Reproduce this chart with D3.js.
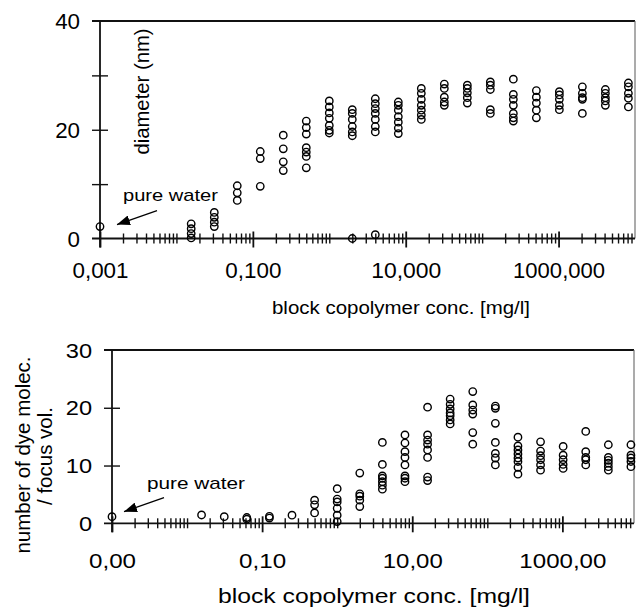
<!DOCTYPE html>
<html><head><meta charset="utf-8">
<script src="https://cdn.jsdelivr.net/npm/d3@7"></script>
<style>
html,body{margin:0;padding:0;background:#fff;}
text{font-family:"Liberation Sans",Arial,Helvetica,sans-serif;fill:#000;}
</style>
</head><body>
<svg id="c" width="637" height="608"></svg>
<script>
// ---------- data ----------
const conc = [0.0156, 0.0313, 0.0625, 0.125, 0.25, 0.5, 1, 2, 4, 8, 16, 32, 64, 128, 256, 512, 1024, 2048, 4096, 8192];
const pureWaterConc = 0.001;
const diameterPure = 2.2;
const diameterNm = [
  [2.7, 1.8, 0.9, 0.1],
  [4.8, 3.9, 3.0, 2.2],
  [9.7, 8.4, 7.0],
  [16.0, 14.7, 9.6],
  [19.0, 16.5, 14.1, 12.5],
  [21.6, 20.4, 19.2, 16.7, 15.9, 15.1, 13.0],
  [25.3, 24.2, 23.1, 22.1, 20.8, 19.9, 19.4],
  [23.7, 23.0, 21.9, 20.6, 19.6, 18.9],
  [25.7, 24.8, 23.9, 23.0, 21.9, 20.6, 19.6],
  [25.1, 24.5, 23.6, 22.4, 21.4, 20.3, 19.3],
  [27.6, 26.7, 25.6, 24.5, 23.6, 22.7, 21.9],
  [28.4, 27.6, 26.0, 25.1, 24.5],
  [28.2, 27.6, 26.8, 25.9, 24.9],
  [28.8, 28.2, 27.4, 23.7, 23.0],
  [29.3, 26.5, 25.6, 24.5, 23.0, 22.2, 21.6],
  [27.2, 26.0, 24.9, 23.6, 22.2],
  [27.0, 26.4, 25.6, 24.5, 23.7],
  [27.9, 26.7, 25.9, 25.6, 23.0],
  [27.4, 26.7, 25.9, 25.3, 24.5],
  [28.6, 27.9, 26.7, 25.8, 24.2]
];
const diameterLowConc = [2, 4];
const diameterLow = [0, 0.7];
const dyePure = 1.15;
const dyeMolec = [
  [1.44],
  [1.15],
  [1.0, 0.7],
  [1.2, 0.9],
  [1.4],
  [4.0, 3.2, 1.8],
  [6.0, 4.2, 3.7, 2.6, 1.4, 0.3],
  [8.7, 5.1, 4.7, 4.0, 2.9],
  [14.0, 10.2, 8.2, 7.8, 7.2, 6.6, 5.9],
  [15.3, 13.9, 12.4, 11.4, 10.1, 8.2, 7.8, 7.2],
  [20.1, 15.3, 14.4, 13.7, 12.7, 11.4, 8.0, 7.4],
  [21.5, 20.6, 19.8, 19.1, 18.6, 17.9, 17.2],
  [22.8, 20.5, 19.6, 18.9, 15.7, 13.7],
  [20.3, 19.9, 17.3, 14.0, 12.1, 11.3, 10.1],
  [14.9, 13.4, 12.7, 12.0, 11.3, 10.7, 9.7, 8.5],
  [14.1, 12.5, 11.7, 11.0, 10.1, 9.2],
  [13.3, 11.8, 11.0, 10.2, 9.5],
  [15.9, 12.4, 11.4, 11.0, 10.1],
  [13.6, 11.4, 10.9, 10.4, 9.8, 9.2],
  [13.6, 11.8, 11.3, 10.7, 9.8]
];
const xMajorTicks = [0.001, 0.1, 10, 1000];
const xTickLabelsTop = ["0,001", "0,100", "10,000", "1000,000"];
const xTickLabelsBottom = ["0,00", "0,10", "10,00", "1000,00"];
const yTicksTop = [0, 10, 20, 30, 40];
const yLabelsTop = [0, 20, 40];
const yTicksBottom = [0, 10, 20, 30];
const yLabelsBottom = [0, 10, 20, 30];
const xTitle = "block copolymer conc. [mg/l]";
const yTitleTop = "diameter (nm)";
const yTitleBottom = ["number of dye molec.", "/ focus vol."];
const pureWaterLabel = "pure water";

// ---------- helpers ----------
const svg = d3.select("#c");
svg.append("defs").append("marker")
  .attr("id", "ah").attr("viewBox", "0 0 13 10").attr("refX", 13).attr("refY", 5)
  .attr("markerWidth", 13).attr("markerHeight", 10).attr("markerUnits", "userSpaceOnUse")
  .attr("orient", "auto")
  .append("path").attr("d", "M0,0 L13,5 L0,10 Z").attr("fill", "#000");

function stretchBy(sel, k) {
  sel.each(function () {
    const len = this.getComputedTextLength();
    d3.select(this).attr("textLength", len * k).attr("lengthAdjust", "spacingAndGlyphs");
  });
}
function fitTo(sel, w) { sel.attr("textLength", w).attr("lengthAdjust", "spacingAndGlyphs"); }

function minorValues(domain) {
  const out = [];
  for (let e = -3; e <= 4; e++) {
    for (let m = 1; m <= 9; m++) {
      const v = +(m * Math.pow(10, e)).toPrecision(6);
      if (v > domain[0] && v < domain[1] && !xMajorTicks.includes(v)) out.push(v);
    }
  }
  return out;
}

function panel(o) {
  const g = svg.append("g");
  const x = d3.scaleLog().domain(o.xDomain).range(o.xRange);
  const y = d3.scaleLinear().domain(o.yDomain).range(o.yRange);
  const x0 = o.xRange[0], x1 = o.xRange[1], y0 = y(0), yT = y(o.yDomain[1]);

  g.append("line").attr("x1", x0 - 8).attr("x2", x1).attr("y1", yT).attr("y2", yT)
    .attr("stroke", "#111").attr("stroke-width", 1.8);
  g.append("line").attr("x1", x1).attr("x2", x1).attr("y1", yT).attr("y2", y0)
    .attr("stroke", "#666").attr("stroke-width", 1.1);
  g.append("line").attr("x1", x0 - 8).attr("x2", x1).attr("y1", y0).attr("y2", y0)
    .attr("stroke", "#111").attr("stroke-width", 1.8);
  g.append("line").attr("x1", x0).attr("x2", x0).attr("y1", yT).attr("y2", y0 + 9)
    .attr("stroke", "#111").attr("stroke-width", 1.8);

  const mn = g.append("g").attr("transform", `translate(0,${y0 - 5})`)
    .call(d3.axisBottom(x).tickValues(minorValues(o.xDomain)).tickSize(10).tickFormat(""));
  mn.select(".domain").remove();
  mn.selectAll("line").attr("stroke", "#111").attr("stroke-width", 1.4);
  const mj = g.append("g").attr("transform", `translate(0,${y0 - 7})`)
    .call(d3.axisBottom(x).tickValues(xMajorTicks).tickSize(16).tickFormat(""));
  mj.select(".domain").remove();
  mj.selectAll("line").attr("stroke", "#111").attr("stroke-width", 1.8);
  const xl = g.append("g").attr("transform", `translate(0,${o.xLabelY})`)
    .call(d3.axisBottom(x).tickValues(xMajorTicks).tickSize(0).tickFormat((d, i) => o.xLabels[i]));
  xl.select(".domain").remove();
  xl.selectAll("text").attr("y", 0).attr("dy", null)
    .attr("font-size", o.xLabelSize).attr("fill", "#000")
    .style("font-family", '"Liberation Sans", Arial, sans-serif')
    .each(function (d, i) { fitTo(d3.select(this), o.xLabelW[i]); });

  const yt = g.append("g").attr("transform", `translate(${x0 + 8},0)`)
    .call(d3.axisLeft(y).tickValues(o.yTicks.filter(v => v !== o.yDomain[1] && v !== 0)).tickSize(16).tickFormat(""));
  yt.select(".domain").remove();
  yt.selectAll("line").attr("stroke", "#111").attr("stroke-width", 1.4);
  const yl = g.append("g").attr("transform", `translate(${o.yLabelX},0)`)
    .call(d3.axisLeft(y).tickValues(o.yLabels).tickSize(0).tickFormat(d3.format("d")));
  yl.select(".domain").remove();
  yl.selectAll("text").attr("x", 0).attr("dy", "0.36em")
    .attr("font-size", o.yLabelSize).attr("fill", "#000")
    .style("font-family", '"Liberation Sans", Arial, sans-serif')
    .call(stretchBy, o.yLabelK);

  const pts = [];
  conc.forEach((c, i) => o.values[i].forEach(v => pts.push([c, v])));
  o.extraConc.forEach((c, i) => pts.push([c, o.extra[i]]));
  pts.push([pureWaterConc, o.pure]);
  g.append("g").selectAll("circle").data(pts).join("circle")
    .attr("cx", d => x(d[0])).attr("cy", d => y(d[1])).attr("r", 3.7)
    .attr("fill", "none").attr("stroke", "#000").attr("stroke-width", 1.4);

  const px = x(pureWaterConc), py = y(o.pure);
  g.append("line")
    .attr("x1", px + o.arrow[0]).attr("y1", py + o.arrow[1])
    .attr("x2", px + o.arrow[2]).attr("y2", py + o.arrow[3])
    .attr("stroke", "#000").attr("stroke-width", 1.3).attr("marker-end", "url(#ah)");
  g.append("text").attr("x", o.pwX).attr("y", o.pwY).attr("font-size", 17)
    .text(pureWaterLabel).call(fitTo, o.pwW);

  g.append("text").attr("x", o.xTitleX).attr("y", o.xTitleY).attr("text-anchor", "middle")
    .attr("font-size", o.xTitleSize).text(xTitle).call(fitTo, o.xTitleW);
  return g;
}

const topPanel = panel({
  xDomain: [0.001, 10000], xRange: [100, 635],
  yDomain: [0, 40], yRange: [238.5, 21],
  yTicks: yTicksTop, yLabels: yLabelsTop, yLabelX: 80, yLabelSize: 21.5, yLabelK: 1.04,
  xLabels: xTickLabelsTop, xLabelY: 278, xLabelSize: 21.5, xLabelW: [56, 56, 70, 92],
  values: diameterNm, extraConc: diameterLowConc, extra: diameterLow, pure: diameterPure,
  arrow: [57, -16, 17, -2], pwX: 123, pwY: 201, pwW: 95,
  xTitleX: 401, xTitleY: 314, xTitleSize: 17.5, xTitleW: 258
});
topPanel.append("text").attr("transform", "translate(149,91.5) rotate(-90)")
  .attr("text-anchor", "middle").attr("font-size", 20.3).text(yTitleTop);

const botPanel = panel({
  xDomain: [0.001, 9000], xRange: [112, 634],
  yDomain: [0, 30], yRange: [523.3, 350],
  yTicks: yTicksBottom, yLabels: yLabelsBottom, yLabelX: 92, yLabelSize: 20, yLabelK: 1.18,
  xLabels: xTickLabelsBottom, xLabelY: 568, xLabelSize: 21, xLabelW: [47, 47, 60, 87],
  values: dyeMolec, extraConc: [], extra: [], pure: dyePure,
  arrow: [52, -19, 12, -5], pwX: 147, pwY: 489, pwW: 98,
  xTitleX: 374, xTitleY: 603, xTitleSize: 21, xTitleW: 312
});
botPanel.append("text").attr("transform", "translate(29.5,455) rotate(-90)")
  .attr("text-anchor", "middle").attr("font-size", 20.5).text(yTitleBottom[0]);
botPanel.append("text").attr("transform", "translate(52,456) rotate(-90)")
  .attr("text-anchor", "middle").attr("font-size", 20.5).text(yTitleBottom[1]);
</script>
</body></html>
